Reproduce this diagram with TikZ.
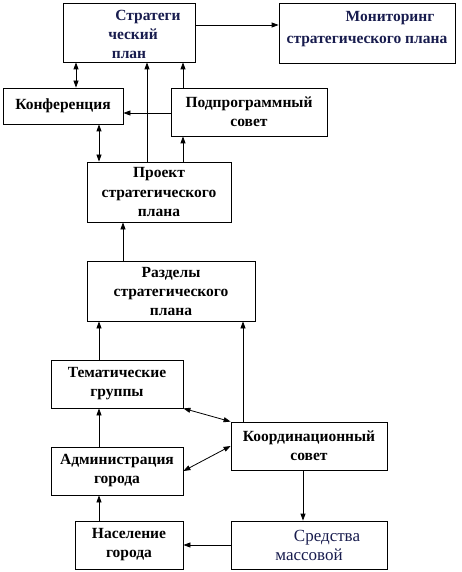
\documentclass[tikz,border=0pt]{standalone}
\usepackage{fontspec}
\setmainfont{Liberation Serif}
\usetikzlibrary{arrows.meta}
\definecolor{navytext}{RGB}{24,28,78}

\tikzset{
    blok/.style={draw, line width=0.8pt, inner sep=0pt, align=center,
        font=\fontsize{15.5}{19}\selectfont\bfseries},
    arr/.style={line width=0.8pt, -{Triangle[length=7pt,width=5pt]}},
    darr/.style={line width=0.8pt, {Triangle[length=7pt,width=5pt]}-{Triangle[length=7pt,width=5pt]}}
}

\begin{document}
\begin{tikzpicture}[x=1pt,y=-1pt]
        \useasboundingbox (0,0) rectangle (462,572);

        % Blocs
        \node[blok, minimum width=132pt, minimum height=59pt, text=navytext] (plan) at (129,32.5)
            {\mbox{}\\[-4pt]\hspace*{38pt}Стратеги\\\hspace*{8pt}ческий\\план};
        \node[blok, minimum width=176pt, minimum height=60pt, text=navytext] (monit) at (367,33)
            {\hspace*{46pt}Мониторинг\\[3pt]стратегического плана\\[-7pt]\mbox{}};
        \node[blok, minimum width=120pt, minimum height=36pt] (konf) at (63,106) {Конференция};
        \node[blok, minimum width=156pt, minimum height=48pt] (podpr) at (249,112) {Подпрограммный\\совет};
        \node[blok, minimum width=144pt, minimum height=60pt] (proekt) at (159,192) {Проект\\стратегического\\плана};
        \node[blok, minimum width=168pt, minimum height=60pt] (razd) at (171,291) {Разделы\\стратегического\\плана};
        \node[blok, minimum width=132pt, minimum height=48pt] (temat) at (117,384) {Тематические\\группы};
        \node[blok, minimum width=156pt, minimum height=48pt] (koord) at (309,446) {Координационный\\совет};
        \node[blok, minimum width=132pt, minimum height=48pt] (admin) at (117,471) {Администрация\\города};
        \node[blok, minimum width=108pt, minimum height=48pt] (nasel) at (129,545) {Население\\города};
        \node[blok, minimum width=156pt, minimum height=48pt, text=navytext, font=\fontsize{17}{19}\selectfont] (smi) at (309,545)
            {\hspace*{36pt}Средства\\массовой};

        % Verticales
        \coordinate (xa) at (76,0);
        \coordinate (xb) at (99,0);
        \coordinate (xc) at (123,0);
        \coordinate (xd) at (147,0);
        \coordinate (xe) at (183,0);
        \coordinate (xf) at (243,0);
        \coordinate (xg) at (303,0);

        % Fleches
        \draw[arr] (plan.east |- 0,25) -- (monit.west |- 0,25);
        \draw[darr] (plan.south -| xa) -- (konf.north -| xa);
        \draw[arr] (podpr.west |- 0,113) -- (konf.east |- 0,113);
        \draw[arr] (podpr.north -| xe) -- (plan.south -| xe);
        \draw[arr] (proekt.north -| xd) -- (plan.south -| xd);
        \draw[arr] (proekt.north -| xe) -- (podpr.south -| xe);
        \draw[darr] (konf.south -| xb) -- (proekt.north -| xb);
        \draw[arr] (razd.north -| xc) -- (proekt.south -| xc);
        \draw[arr] (temat.north -| xb) -- (razd.south -| xb);
        \draw[arr] (koord.north -| xf) -- (razd.south -| xf);
        \draw[darr] (temat.south east) -- (koord.north west);
        \draw[darr] (admin.east) -- (koord.west);
        \draw[arr] (admin.north -| xb) -- (temat.south -| xb);
        \draw[arr] (nasel.north -| xb) -- (admin.south -| xb);
        \draw[arr] (koord.south -| xg) -- (smi.north -| xg);
        \draw[arr] (smi.west) -- (nasel.east);
    \end{tikzpicture}
\end{document}
